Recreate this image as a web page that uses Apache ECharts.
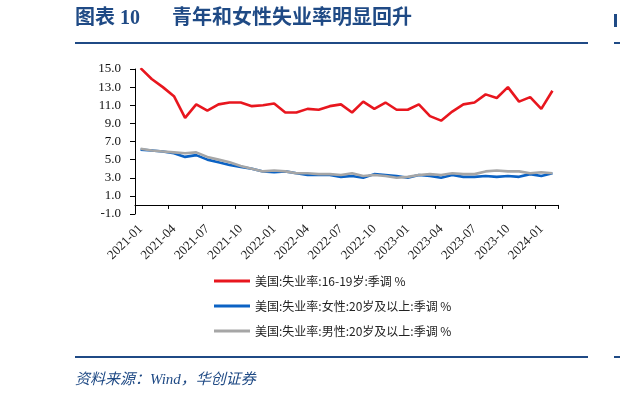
<!DOCTYPE html>
<html>
<head>
<meta charset="utf-8">
<script src="https://cdn.jsdelivr.net/npm/echarts@6/dist/echarts.min.js"></script>
<style>
  html, body { margin: 0; padding: 0; background: #fff; }
  #chart { width: 620px; height: 398px; }
</style>
</head>
<body>
<div id="chart"></div>
<script>
// 月份（2021-01 ~ 2024-02）
var months = [
  '2021-01','2021-02','2021-03','2021-04','2021-05','2021-06','2021-07','2021-08','2021-09','2021-10','2021-11','2021-12',
  '2022-01','2022-02','2022-03','2022-04','2022-05','2022-06','2022-07','2022-08','2022-09','2022-10','2022-11','2022-12',
  '2023-01','2023-02','2023-03','2023-04','2023-05','2023-06','2023-07','2023-08','2023-09','2023-10','2023-11','2023-12',
  '2024-01','2024-02'
];
// 美国:失业率:16-19岁:季调 %
var teen = [
  15.1, 13.9, 13.0, 12.0, 9.6, 11.1, 10.4, 11.1, 11.3, 11.3, 10.9, 11.0,
  11.2, 10.2, 10.2, 10.6, 10.5, 10.9, 11.1, 10.2, 11.4, 10.6, 11.3, 10.5,
  10.5, 11.1, 9.8, 9.3, 10.3, 11.1, 11.3, 12.2, 11.8, 13.0, 11.4, 11.9,
  10.6, 12.6
];
// 美国:失业率:女性:20岁及以上:季调 %
var women = [
  6.1, 6.0, 5.9, 5.7, 5.3, 5.5, 5.0, 4.7, 4.4, 4.2, 4.0, 3.7,
  3.6, 3.7, 3.5, 3.3, 3.3, 3.3, 3.1, 3.2, 3.0, 3.4, 3.3, 3.2,
  3.0, 3.3, 3.2, 3.0, 3.3, 3.1, 3.1, 3.2, 3.1, 3.2, 3.1, 3.4,
  3.2, 3.5
];
// 美国:失业率:男性:20岁及以上:季调 %
var men = [
  6.2, 6.0, 5.9, 5.8, 5.7, 5.8, 5.3, 5.0, 4.7, 4.3, 4.0, 3.7,
  3.8, 3.7, 3.5, 3.5, 3.4, 3.4, 3.3, 3.5, 3.2, 3.3, 3.2, 3.0,
  3.1, 3.3, 3.4, 3.3, 3.5, 3.4, 3.4, 3.7, 3.8, 3.7, 3.7, 3.5,
  3.6, 3.5
];
var seriesNames = ['美国:失业率:16-19岁:季调 %', '美国:失业率:女性:20岁及以上:季调 %', '美国:失业率:男性:20岁及以上:季调 %'];
var colors = ['#E8161E', '#0B62C4', '#A6A6A6'];

var navy = '#1F4A85';
var serif = '"Liberation Serif", "Times New Roman", serif';
var cjk = '"Liberation Serif", "Noto Sans CJK SC", sans-serif';

var myChart = echarts.init(document.getElementById('chart'), null, {renderer: 'canvas'});
var option = {
  animation: false,
  backgroundColor: '#fff',
  color: colors,
  grid: { left: 135, right: 62, top: 69, bottom: 184, containLabel: false },
  legend: {
    orient: 'vertical',
    left: 209,
    top: 270,
    icon: 'rect',
    itemWidth: 36,
    itemHeight: 3,
    itemGap: 13,
    textStyle: { fontFamily: '"Noto Sans CJK SC", sans-serif', fontSize: 12, color: '#222' },
    data: seriesNames
  },
  xAxis: {
    type: 'category',
    data: months,
    boundaryGap: true,
    axisLine: { onZero: true, lineStyle: { color: '#000', width: 1 } },
    axisTick: { show: true, interval: 2, length: 4, lineStyle: { color: '#000' } },
    axisLabel: {
      interval: 2, rotate: 45, margin: 13,
      fontFamily: serif, fontSize: 13, color: '#222'
    },
    splitLine: { show: false }
  },
  yAxis: {
    type: 'value',
    min: -1, max: 15, interval: 2,
    axisLine: { show: true, lineStyle: { color: '#000', width: 1 } },
    axisTick: { show: true, length: 5, lineStyle: { color: '#000' } },
    axisLabel: {
      margin: 14, fontFamily: serif, fontSize: 13, color: '#111',
      formatter: function (v) { return v.toFixed(1); }
    },
    splitLine: { show: false }
  },
  series: [
    { name: seriesNames[0], type: 'line', data: teen, symbol: 'none', clip: true, lineStyle: { width: 2.6, color: colors[0] } },
    { name: seriesNames[1], type: 'line', data: women, symbol: 'none', clip: true, lineStyle: { width: 2.6, color: colors[1] } },
    { name: seriesNames[2], type: 'line', data: men, symbol: 'none', clip: true, lineStyle: { width: 2.6, color: colors[2] } }
  ],
  graphic: [
    // 标题
    { type: 'text', left: 75, top: 9, style: { text: '图表 10', font: 'bold 20px ' + cjk, fill: navy } },
    { type: 'text', left: 172, top: 9, style: { text: '青年和女性失业率明显回升', font: 'bold 20px ' + cjk, fill: navy } },
    { type: 'rect', shape: { x: 75, y: 42, width: 513, height: 2 }, style: { fill: navy } },
    { type: 'rect', shape: { x: 614, y: 42, width: 6, height: 2 }, style: { fill: navy } },
    { type: 'rect', shape: { x: 614, y: 14, width: 3, height: 13 }, style: { fill: navy } },
    // 底部
    { type: 'rect', shape: { x: 75, y: 356, width: 513, height: 2 }, style: { fill: navy } },
    { type: 'rect', shape: { x: 614, y: 356, width: 6, height: 2 }, style: { fill: navy } },
    { type: 'text', left: 75, top: 373, style: { text: '资料来源：Wind，华创证券', font: 'italic 15px ' + cjk, fill: navy } }
  ]
};
myChart.setOption(option);
</script>
</body>
</html>
